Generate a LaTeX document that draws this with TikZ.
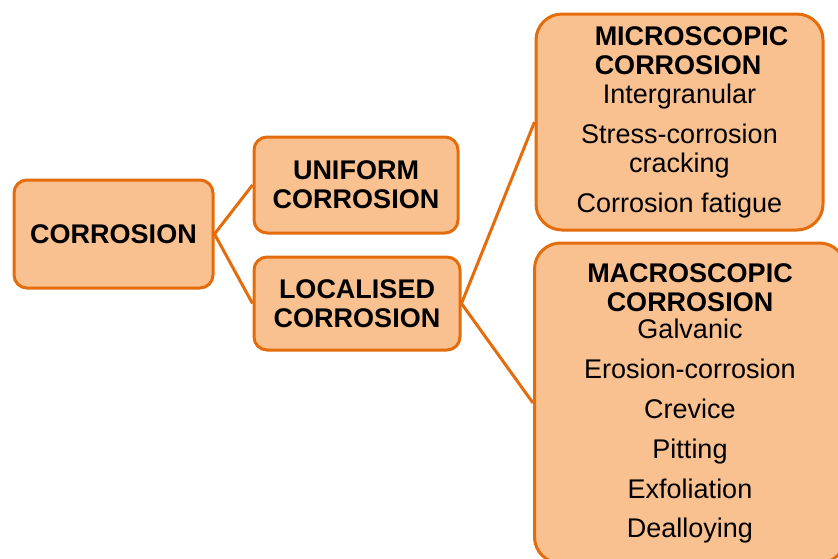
\documentclass[tikz,border=0pt]{standalone}
\usepackage{fontspec}
\setmainfont{Liberation Sans}
\usetikzlibrary{positioning}
\definecolor{corrline}{RGB}{228,108,10}
\definecolor{corrfill}{RGB}{249,192,144}

\begin{document}
\begin{tikzpicture}[x=1pt,y=-1pt,
  box/.style={draw=corrline,fill=corrfill,line width=3pt,rounded corners=13pt,
    align=center,inner sep=0pt,font=\fontsize{27}{29}\selectfont},
  headbox/.style={box,font=\fontsize{27}{29}\selectfont\bfseries},
  bigbox/.style={box,rounded corners=26pt},
  link/.style={draw=corrline,line width=3pt}]
\clip (0,0) rectangle (838,558);
\node [headbox,minimum width=199pt,minimum height=108pt] (corr) at (113.5,234) {CORROSION};
\node [headbox,minimum width=204pt,minimum height=96pt] (unif) at (356,185) {UNIFORM\\CORROSION};
\node [headbox,minimum width=206pt,minimum height=93pt] (loc) at (357,303.5) {LOCALISED\\CORROSION};
\node [bigbox,minimum width=287pt,minimum height=216pt] (micro) at (679.5,122)
  {\hspace*{24pt}{\bfseries MICROSCOPIC}\\
   \hspace*{24pt}\rlap{\bfseries CORROSION}\phantom{\bfseries MICROSCOPIC}\\
   Intergranular\\[11pt]
   Stress-corrosion\\cracking\\[11pt]
   Corrosion fatigue};
\node [bigbox,minimum width=311pt,minimum height=320pt] (macro) at (690,403)
  {{\bfseries MACROSCOPIC}\\
   {\bfseries CORROSION}\\[-2pt]
   Galvanic\\[11pt]
   Erosion-corrosion\\[11pt]
   Crevice\\[11pt]
   Pitting\\[11pt]
   Exfoliation\\[10pt]
   Dealloying};
\draw [link] (corr.east) -- (unif.west);
\draw [link] (corr.east) -- (loc.west);
\draw [link] (loc.east) -- (micro.west);
\draw [link] (loc.east) -- (macro.west);
\end{tikzpicture}
\end{document}
